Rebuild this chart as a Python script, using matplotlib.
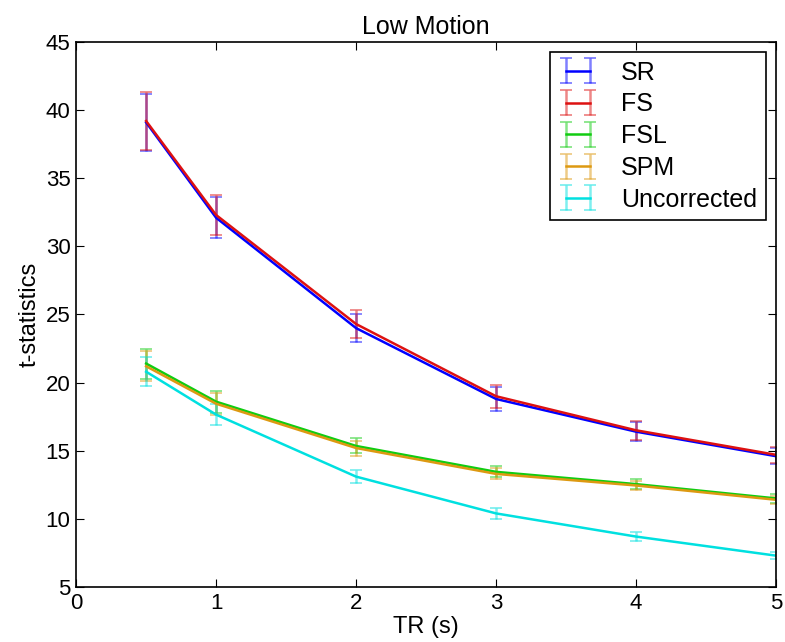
import numpy as np
import matplotlib
matplotlib.use('Agg')
import matplotlib.pyplot as plt

plt.rcParams['font.family'] = ['Liberation Sans', 'DejaVu Sans']

tr = [0.5, 1, 2, 3, 4, 5]

# means and error bars
sr = [39.1, 32.1, 24.0, 18.8, 16.4, 14.6]
sr_err = [2.1, 1.5, 1.05, 0.85, 0.7, 0.6]
fs = [39.2, 32.3, 24.3, 19.0, 16.5, 14.7]
fs_err = [2.1, 1.5, 1.05, 0.85, 0.7, 0.6]
fsl = [21.4, 18.6, 15.35, 13.45, 12.55, 11.5]
fsl_err = [1.1, 0.8, 0.55, 0.4, 0.35, 0.3]
spm = [21.2, 18.45, 15.2, 13.3, 12.45, 11.4]
spm_err = [1.1, 0.8, 0.55, 0.4, 0.35, 0.3]
unc = [20.8, 17.65, 13.1, 10.4, 8.7, 7.3]
unc_err = [1.05, 0.75, 0.5, 0.4, 0.3, 0.25]

labels = ['SR', 'FS', 'FSL', 'SPM', 'Uncorrected']
colors = ['#0000ff', '#dd1111', '#11cc11', '#dd9911', '#00e0e0']
series = [(sr, sr_err), (fs, fs_err), (fsl, fsl_err), (spm, spm_err), (unc, unc_err)]

fig = plt.figure(figsize=(7.85, 6.42), dpi=100)
ax = fig.add_axes([0.097, 0.0857, 0.8915, 0.8489])

for (y, e), c, lab in zip(series, colors, labels):
    ec = matplotlib.colors.to_rgba(c, 0.5)
    ax.errorbar(tr, y, yerr=e, color=c, ecolor=ec, lw=1.8, elinewidth=1.8,
                capsize=4, capthick=1.3, label=lab)

ax.set_xlim(0, 5)
ax.set_ylim(5, 45)
ax.set_xticks([0, 1, 2, 3, 4, 5])
ax.set_yticks(np.arange(5, 46, 5))
ax.tick_params(direction='in', top=True, right=True, labelsize=16, length=6, pad=4)
for s in ax.spines.values():
    s.set_linewidth(1.2)

ax.set_title('Low Motion', fontsize=18, pad=6)
ax.set_xlabel('TR (s)', fontsize=17, labelpad=2)
ax.set_ylabel('t-statistics', fontsize=17, labelpad=4)

leg = ax.legend(loc='upper right', numpoints=2, fontsize=18, fancybox=False,
                framealpha=1, edgecolor='black', borderaxespad=0.4,
                handlelength=1.55, handletextpad=0.95, labelspacing=0.31,
                borderpad=0.35)
leg.get_frame().set_linewidth(1.2)

fig.savefig('out.png', dpi=100)
